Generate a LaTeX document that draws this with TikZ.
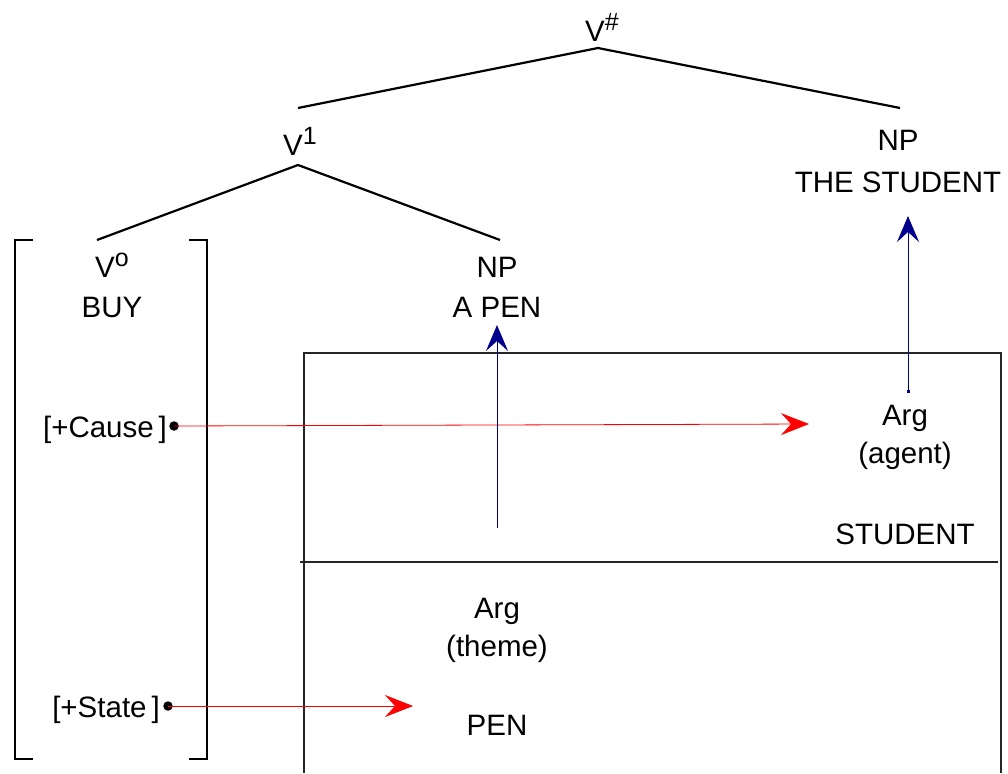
\documentclass[tikz,border=0pt]{standalone}
\usepackage{fontspec}
\setmainfont{Liberation Sans}
\usetikzlibrary{arrows.meta}
\definecolor{navy}{RGB}{0,0,140}
\newcommand{\supx}[1]{\raisebox{11pt}{\fontsize{25}{25}\selectfont #1}}
\begin{document}
\begin{tikzpicture}[x=1pt,y=-1pt,
  lab/.style={anchor=base,inner sep=0pt,font=\fontsize{29.5}{34}\selectfont},
  tree/.style={line width=2.2pt},
  brk/.style={line width=2.6pt},
  boxl/.style={line width=1.1pt,black!85},
  redarr/.style={red,line width=0.8pt,-{Stealth[length=28pt,width=22pt,inset=10pt]}},
  bluearr/.style={navy,line width=1pt,-{Stealth[length=26pt,width=22pt,inset=10pt]}},
  dotm/.style={circle,fill=black,inner sep=0pt,minimum size=9.5pt}]
\useasboundingbox (0,0) rectangle (1008,773);
% tree labels
\node[lab] (vh) at (602,42) {V\supx{\#}};
\node[lab] (v1) at (300,155) {V\supx{1}};
\node[lab] (np1) at (898,150) {NP};
\node[lab] (stud) at (898,192) {THE STUDENT};
\node[lab] (vo) at (112,277) {V\supx{o}};
\node[lab] (buy) at (112,317) {BUY};
\node[lab] (np2) at (497,277) {NP};
\node[lab] (apen) at (497,317) {A PEN};
% tree lines
\coordinate (t0) at (598,48);
\coordinate (t1) at (298,108);
\coordinate (t2) at (900,108);
\coordinate (t3) at (298,165);
\coordinate (t4) at (97,240);
\coordinate (t5) at (500,240);
\draw[tree] (t1) -- (t0) -- (t2);
\draw[tree] (t4) -- (t3) -- (t5);
% bracket
\coordinate (b1) at (33,240);
\coordinate (b2) at (15,240);
\coordinate (b3) at (15,759);
\coordinate (b4) at (33,759);
\coordinate (b5) at (189,240);
\coordinate (b6) at (207,240);
\coordinate (b7) at (207,759);
\coordinate (b8) at (189,759);
\draw[brk] (b1) -- (b2) -- (b3) -- (b4);
\draw[brk] (b5) -- (b6) -- (b7) -- (b8);
% features
\node[lab] (cause) at (105,437) {[+Cause\,]};
\node[lab] (state) at (106,717) {[+State\,]};
\node[dotm] (d1) at (174,426) {};
\node[dotm] (d2) at (168,706) {};
% box
\coordinate (x1) at (304,773);
\coordinate (x2) at (304,353);
\coordinate (x3) at (1001,353);
\coordinate (x4) at (1001,773);
\coordinate (x5) at (300,562);
\coordinate (x6) at (998,562);
\draw[boxl] (x1) -- (x2) -- (x3) -- (x4);
\draw[boxl] (x5) -- (x6);
% lower labels
\node[lab] (arg1) at (905,425) {Arg};
\node[lab] (agent) at (905,463) {(agent)};
\node[lab] (student) at (905,544) {STUDENT};
\node[lab] (arg2) at (497,618) {Arg};
\node[lab] (theme) at (497,656) {(theme)};
\node[lab] (pen) at (497,735) {PEN};
% arrows
\coordinate (r1) at (809,424);
\coordinate (r2) at (413,706);
\draw[redarr] (d1.center) -- (r1);
\draw[redarr] (d2.center) -- (r2);
\coordinate (u1) at (497,528);
\coordinate (u2) at (497,325);
\coordinate (u3) at (908,391);
\coordinate (u4) at (908,216);
\draw[bluearr] (u1) -- (u2);
\draw[bluearr] (u3) -- (u4);
\fill[navy] (906.5,389.5) rectangle (909.5,392.5);
\end{tikzpicture}
\end{document}
